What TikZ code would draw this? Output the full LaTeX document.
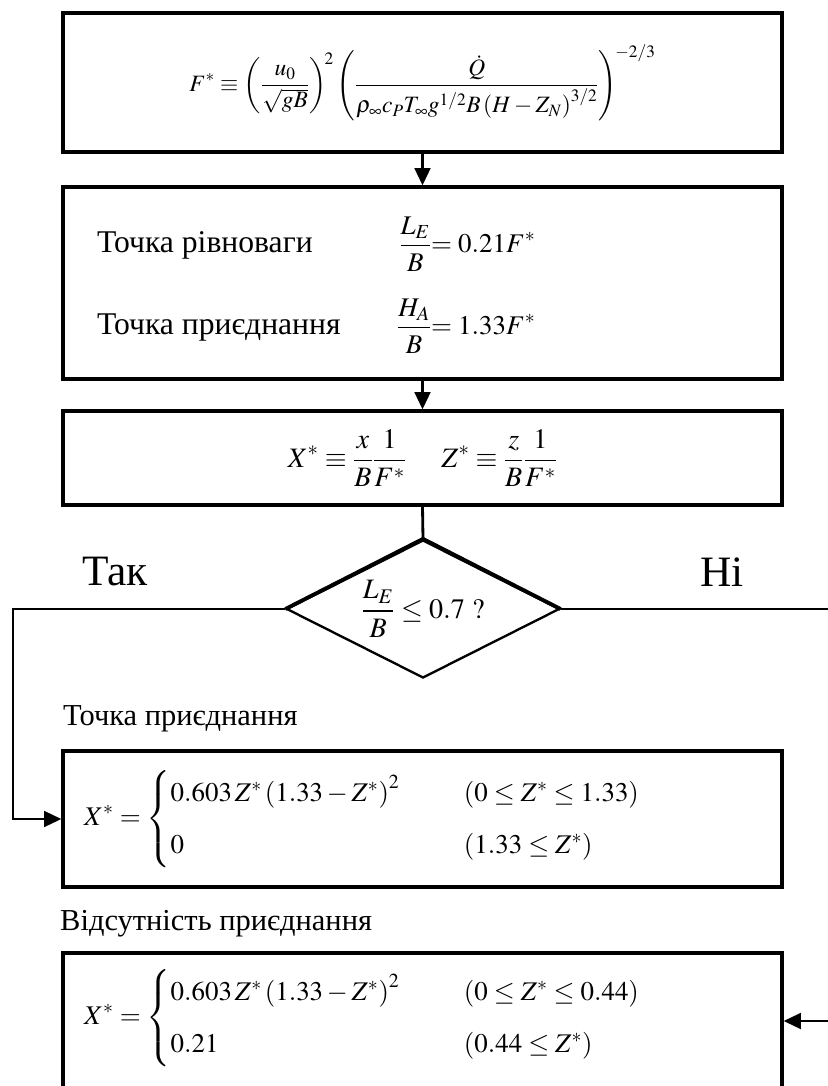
\documentclass[tikz,border=0pt]{standalone}
\usepackage{amsmath}
\usepackage{mathptmx}
\usepackage[no-math]{fontspec}
\setmainfont{Liberation Serif}
\usetikzlibrary{arrows.meta}
\usetikzlibrary{shapes.geometric}

\newcommand{\rowtext}[1]{{\fontsize{27}{32}\selectfont #1}}

\begin{document}
\begin{tikzpicture}
  [x=0.03cm,y=-0.03cm,
   box/.style={draw,rectangle,line width=2.7pt,minimum width=21.57cm,inner sep=0pt,font=\fontsize{20}{24}\selectfont},
   cond/.style={draw,diamond,aspect=2,line width=2pt,minimum width=8.19cm,minimum height=4.14cm,inner sep=0pt,font=\fontsize{24}{28}\selectfont},
   lbl/.style={inner sep=0pt,font=\fontsize{26}{31}\selectfont},
   formula/.style={inner sep=0pt,font=\fontsize{23}{27}\selectfont},
   answer/.style={inner sep=0pt,font=\fontsize{37}{44}\selectfont},
   line/.style={line width=2.4pt},
   arr/.style={line width=2.4pt,-{Triangle[length=0.52cm,width=0.47cm]}}]
  \useasboundingbox (0,0) rectangle (827,1086);

  \node[box,minimum height=4.17cm] (b1) at (422.5,82.5)
    {$\displaystyle F^{*}\equiv\left(\frac{u_0}{\sqrt{gB}}\right)^{\!2}\left(\frac{\dot{Q}}{\rho_\infty c_P T_\infty g^{1/2}B\left(H-Z_N\right)^{3/2}}\right)^{\!-2/3}$};
  \node[box,minimum height=5.76cm] (b2) at (422.5,283) {};
  \node[box,minimum height=2.82cm,font=\fontsize{24}{28}\selectfont] (b3) at (422.5,458)
    {$\displaystyle X^{*}\equiv\frac{x}{B}\frac{1}{F^{*}}\quad\ Z^{*}\equiv\frac{z}{B}\frac{1}{F^{*}}$};
  \node[cond] (dec) at (423,609) {$\displaystyle\frac{L_E}{B}\le 0.7\ ?$};
  \node[box,minimum height=4.08cm] (b4) at (422.5,819) {};
  \node[box,minimum height=4.08cm] (b5) at (422.5,1021) {};

  % rows of the second box
  \node[formula,anchor=west] (eq) at (97,244)
    {\makebox[8.7cm][l]{\rowtext{Точка рівноваги}}\makebox[1.32cm][r]{$\displaystyle\frac{L_E}{B}$}$\displaystyle=0.21F^{*}$};
  \node[formula,anchor=west] (att) at (97,326)
    {\makebox[8.7cm][l]{\rowtext{Точка приєднання}}\makebox[1.32cm][r]{$\displaystyle\frac{H_A}{B}$}$\displaystyle=1.33F^{*}$};

  % the two cases
  \node[lbl,anchor=base west] (t4) at (63,725) {Точка приєднання};
  \node[formula,anchor=west] (f4) at (84,819)
    {$\displaystyle X^{*}=\left\{\begin{array}{@{}l@{}l}
      \makebox[8.8cm][l]{$0.603\,Z^{*}\left(1.33-Z^{*}\right)^{2}$} & \left(0\le Z^{*}\le 1.33\right)\\[0.6cm]
      0 & \left(1.33\le Z^{*}\right)
    \end{array}\right.$};
  \node[lbl,anchor=base west] (t5) at (60,930) {Відсутність приєднання};
  \node[formula,anchor=west] (f5) at (84,1018)
    {$\displaystyle X^{*}=\left\{\begin{array}{@{}l@{}l}
      \makebox[8.8cm][l]{$0.603\,Z^{*}\left(1.33-Z^{*}\right)^{2}$} & \left(0\le Z^{*}\le 0.44\right)\\[0.6cm]
      0.21 & \left(0.44\le Z^{*}\right)
    \end{array}\right.$};

  \node[answer] (yes) at (115,572) {Так};
  \node[answer] (no) at (722,572) {Ні};

  \draw[line width=3.2pt] (dec.west) -- (dec.north) -- (dec.east);

  \coordinate (yescorner) at (13,609);
  \coordinate (nocorner) at (845,609);

  \foreach \from/\to in {b1/b2,b2/b3}
    \draw[arr] (\from.south) -- (\to.north);
  \draw[line] (b3.south) -- (dec.north);
  \draw[arr] (dec.west) -- (yescorner) |- (b4.west);
  \draw[arr] (dec.east) -- (nocorner) |- (b5.east);

\end{tikzpicture}
\end{document}
